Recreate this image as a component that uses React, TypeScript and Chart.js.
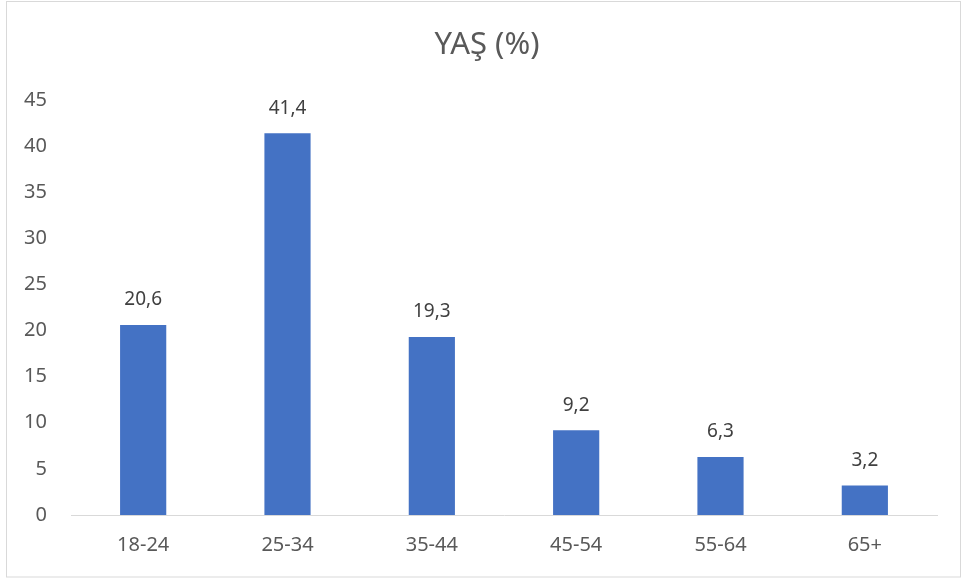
import React, { useEffect, useRef } from "react";
import { Chart, registerables } from "chart.js";

Chart.register(...registerables);

const categories = ["18-24", "25-34", "35-44", "45-54", "55-64", "65+"];
const values = [20.6, 41.4, 19.3, 9.2, 6.3, 3.2];
const titleText = "YAŞ (%)";
const yMax = 45;
const yStep = 5;

const FONT = "'Noto Sans', 'Open Sans', sans-serif";

const frame = {
  id: "frame",
  beforeDraw(chart: any) {
    const ctx = chart.ctx;
    ctx.save();
    ctx.fillStyle = "#ffffff";
    ctx.fillRect(0, 0, chart.width, chart.height);
    ctx.strokeStyle = "#d9d9d9";
    ctx.lineWidth = 1;
    ctx.strokeRect(6.5, 1.5, 954, 575.5);
    ctx.restore();
  },
  afterDraw(chart: any) {
    const ctx = chart.ctx;
    ctx.save();
    ctx.font = `31px ${FONT}`;
    ctx.fillStyle = "#595959";
    ctx.textAlign = "center";
    ctx.textBaseline = "alphabetic";
    ctx.fillText(titleText, 487, 54);
    ctx.restore();
  },
};

const valueLabels = {
  id: "valueLabels",
  afterDatasetsDraw(chart: any) {
    const ctx = chart.ctx;
    const meta = chart.getDatasetMeta(0);
    ctx.save();
    ctx.font = `19px ${FONT}`;
    ctx.fillStyle = "#404040";
    ctx.textAlign = "center";
    ctx.textBaseline = "middle";
    meta.data.forEach((bar: any, i: number) => {
      const txt = values[i].toFixed(1).replace(".", ",");
      ctx.fillText(txt, bar.x, bar.y - 25);
    });
    ctx.restore();
  },
};

export default function App() {
  const ref = useRef<HTMLCanvasElement>(null);
  useEffect(() => {
    if (!ref.current) return;
    const chart = new Chart(ref.current, {
      type: "bar",
      data: {
        labels: categories,
        datasets: [
          {
            data: values,
            backgroundColor: "#4472C4",
            categoryPercentage: 1,
            barPercentage: 0.32,
          },
        ],
      },
      options: {
        animation: false,
        responsive: false,
        devicePixelRatio: 1,
        layout: { padding: { left: 0, right: 26, top: 100, bottom: 0 } },
        plugins: {
          legend: { display: false },
          tooltip: { enabled: false },
          title: { display: false },
        },
        scales: {
          x: {
            grid: { display: false, drawTicks: false },
            border: { display: true, color: "#d9d9d9", width: 1 },
            ticks: {
              color: "#595959",
              font: { family: FONT, size: 20 },
              padding: 18,
            },
            afterFit(scale: any) {
              scale.height = 66;
            },
          },
          y: {
            min: 0,
            max: yMax,
            grid: { display: false, drawTicks: false },
            border: { display: false },
            ticks: {
              stepSize: yStep,
              color: "#595959",
              font: { family: FONT, size: 20 },
              padding: 24,
            },
            afterFit(scale: any) {
              scale.width = 71;
            },
          },
        },
      },
      plugins: [frame, valueLabels],
    });
    return () => chart.destroy();
  }, []);
  return (
    <div style={{ position: "fixed", left: 0, top: 0, width: 963, height: 581, background: "#fff" }}>
      <canvas ref={ref} width={963} height={581} style={{ display: "block", width: 963, height: 581 }} />
    </div>
  );
}
